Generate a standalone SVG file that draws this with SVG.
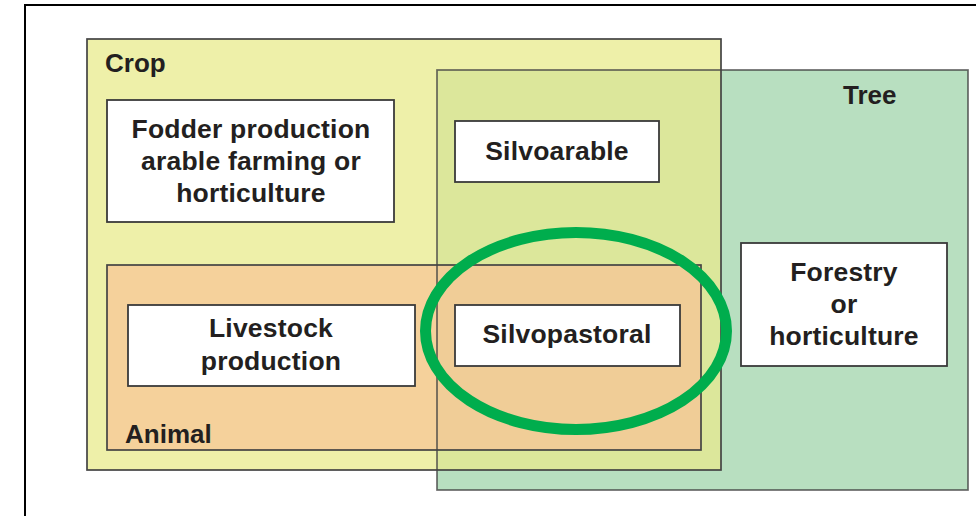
<svg xmlns="http://www.w3.org/2000/svg" width="976" height="516" viewBox="0 0 976 516">
<style>
text{font-family:"Liberation Sans",Arial,sans-serif;font-weight:bold;fill:#231f20}
.lbl{font-size:26px}
.t{font-size:26.5px;letter-spacing:0.2px;text-anchor:middle}
.box{fill:#fff;stroke:#3a3a3a;stroke-width:1.8}
.edge{fill:none;stroke:#444;stroke-width:1.7}
</style>
<rect width="976" height="516" fill="#fff"/>
<path d="M25,516 V5 H976" fill="none" stroke="#000" stroke-width="2"/>
<g id="regions">
<rect id="crop-fill" x="87" y="39" width="634" height="431" fill="#eef0a9"/>
<rect id="tree-fill" x="437" y="70" width="531" height="420" fill="#b8dfc0"/>
<rect x="437" y="70" width="284" height="400" fill="#dce79b"/>
<rect id="animal-fill" x="107" y="265" width="594" height="185" fill="#f5d19b"/>
<rect x="437" y="265" width="264" height="185" fill="#f0cd97"/>
<rect class="edge" x="87" y="39" width="634" height="431"/>
<rect class="edge" x="437" y="70" width="531" height="420" stroke-opacity="0.8"/>
<rect class="edge" x="107" y="265" width="594" height="185"/>
<text class="lbl" x="105" y="72">Crop</text>
<text class="lbl" x="843" y="104">Tree</text>
<text class="lbl" x="125" y="443">Animal</text>
</g>
<g id="fodder">
<rect class="box" x="107" y="100" width="287" height="122"/>
<text class="t" x="251" y="138">Fodder production</text>
<text class="t" x="251" y="170">arable farming or</text>
<text class="t" x="251" y="202">horticulture</text>
</g>
<g id="silvoarable">
<rect class="box" x="455" y="121" width="204" height="61"/>
<text class="t" x="557" y="160">Silvoarable</text>
</g>
<g id="livestock">
<rect class="box" x="128" y="305" width="287" height="81"/>
<text class="t" x="271" y="337">Livestock</text>
<text class="t" x="271" y="370">production</text>
</g>
<g id="silvopastoral">
<rect class="box" x="455" y="305" width="225" height="61"/>
<text class="t" x="567" y="343">Silvopastoral</text>
</g>
<g id="forestry">
<rect class="box" x="741" y="243" width="206" height="123"/>
<text class="t" x="844" y="281">Forestry</text>
<text class="t" x="844" y="313">or</text>
<text class="t" x="844" y="345">horticulture</text>
</g>
<g id="connectors">
<ellipse cx="576" cy="331" rx="150.5" ry="98.5" fill="none" stroke="#00ad4d" stroke-width="11"/>
</g>
</svg>
